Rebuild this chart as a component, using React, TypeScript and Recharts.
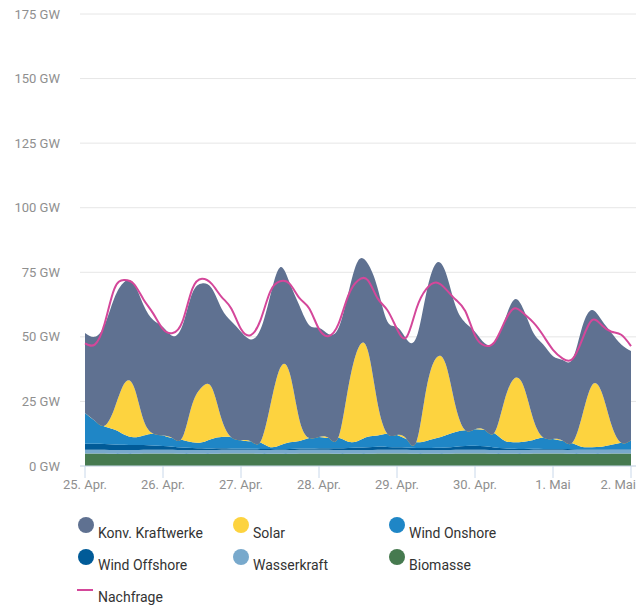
import React from 'react';
import {
  ComposedChart,
  Area,
  Line,
  XAxis,
  YAxis,
  CartesianGrid,
} from 'recharts';

// hours since 25. Apr. 00:00, 3h steps
const hours = [
  0, 3, 6, 9, 12, 15, 18, 21, 24, 27, 30, 33, 36, 39, 42, 45, 48, 51, 54, 57,
  60, 63, 66, 69, 72, 75, 78, 81, 84, 87, 90, 93, 96, 99, 102, 105, 108, 111,
  114, 117, 120, 123, 126, 129, 132, 135, 138, 141, 144, 147, 150, 153, 156,
  159, 162, 165, 168,
];

const biomasse = [
  4.8, 4.8, 4.8, 4.7, 4.7, 4.7, 4.8, 4.8, 4.8, 4.8, 4.7, 4.7, 4.7, 4.7, 4.8,
  4.8, 4.8, 4.8, 4.7, 4.7, 4.7, 4.7, 4.8, 4.8, 4.8, 4.8, 4.7, 4.7, 4.7, 4.7,
  4.8, 4.8, 4.8, 4.8, 4.7, 4.7, 4.7, 4.7, 4.8, 4.8, 4.8, 4.8, 4.7, 4.7, 4.7,
  4.7, 4.8, 4.8, 4.8, 4.8, 4.7, 4.7, 4.7, 4.7, 4.8, 4.8, 4.8,
];

const wasserkraft = [
  1.5, 1.5, 1.5, 1.5, 1.5, 1.5, 1.5, 1.5, 1.5, 1.5, 1.5, 1.5, 1.5, 1.5, 1.5,
  1.5, 1.5, 1.5, 1.5, 1.5, 1.5, 1.5, 1.5, 1.5, 1.5, 1.5, 1.5, 1.5, 1.5, 1.5,
  1.5, 1.5, 1.5, 1.5, 1.5, 1.5, 1.5, 1.5, 1.5, 1.5, 1.5, 1.5, 1.5, 1.5, 1.5,
  1.5, 1.5, 1.5, 1.5, 1.5, 1.5, 1.5, 1.5, 1.5, 1.5, 1.5, 1.5,
];

const windOffshore = [
  2.3, 2.3, 2.2, 2.1, 2.0, 1.9, 1.8, 1.6, 1.4, 1.2, 1.0, 0.8, 0.7, 0.6, 0.6,
  0.5, 0.5, 0.4, 0.4, 0.4, 0.3, 0.4, 0.5, 0.5, 0.6, 0.6, 0.7, 0.8, 1.0, 1.1,
  1.2, 1.1, 1.0, 0.9, 0.8, 0.8, 0.9, 1.0, 1.2, 1.4, 1.5, 1.3, 1.0, 0.7, 0.5,
  0.4, 0.4, 0.3, 0.3, 0.3, 0.3, 0.2, 0.2, 0.2, 0.2, 0.2, 0.2,
];

const windOnshore = [
  11.9, 8.9, 6.8, 5.8, 4.0, 3.0, 3.7, 4.6, 4.1, 3.2, 2.9, 2.2, 2.3, 3.7, 4.3,
  4.3, 3.2, 2.9, 2.5, 0.7, 1.5, 2.6, 2.9, 4.0, 4.3, 3.9, 4.0, 2.4, 2.5, 4.0,
  4.3, 5.1, 4.7, 3.2, 2.2, 2.7, 3.6, 4.7, 5.7, 6.1, 6.4, 6.3, 5.5, 3.0, 2.5,
  2.8, 3.4, 4.4, 3.9, 3.2, 2.3, 1.0, 0.9, 1.1, 1.7, 2.5, 3.5,
];

const solar = [
  0, 0, 0.3, 8, 19.5, 19.7, 6, 0,
  0, 0, 1, 14.7, 21.4, 19.9, 7, 0,
  0, 0, 0.3, 16, 29.8, 26.7, 8, 0,
  0, 0, 0.3, 21, 35.7, 33.5, 12.6, 0,
  0, 0, 0.3, 20, 31, 27.5, 10, 0,
  0, 0, 0.3, 15.2, 24.6, 21.3, 7.7, 0,
  0, 0, 0.3, 12.2, 24, 21, 7.7, 0,
  0,
];

const konv = [
  31.0, 32.5, 38.9, 42.8, 39.4, 39.9, 44.5, 44.0,
  42.0, 39.6, 43.4, 43.0, 40.1, 38.4, 42.8, 44.9,
  42.0, 39.4, 43.5, 42.6, 39.1, 35.0, 44.3, 43.7,
  42.3, 40.2, 42.2, 36.5, 34.0, 33.6, 44.6, 43.5,
  41.8, 38.6, 40.4, 37.2, 36.7, 35.5, 38.8, 41.7,
  37.8, 33.6, 34.9, 30.8, 30.6, 29.7, 33.7, 36.0,
  32.0, 31.2, 32.3, 34.3, 29.1, 27.9, 35.6, 38.0,
  34.5,
];

const nachfrage = [
  47.5, 47, 55, 68.5, 72, 70.5, 64.5, 59,
  53, 51.5, 56, 68.5, 72.5, 70.5, 65.5, 61,
  53, 50.7, 56.5, 67.5, 71.5, 70.5, 65, 61,
  53, 50.3, 55, 66, 71.8, 72, 65, 60.4,
  53, 50, 61, 68.5, 71, 68.5, 64.5, 60,
  50.5, 46.6, 48, 55.5, 61, 59, 55.5, 50.5,
  45, 41.6, 41.4, 49, 56.5, 54.5, 52, 50.8,
  46.4,
];

const dayTicks = [0, 24, 48, 72, 96, 120, 144, 168];
const dayLabels = ['25. Apr.', '26. Apr.', '27. Apr.', '28. Apr.', '29. Apr.', '30. Apr.', '1. Mai', '2. Mai'];
const gwTicks = [0, 25, 50, 75, 100, 125, 150, 175];

const data = hours.map((h, i) => ({
  h,
  biomasse: biomasse[i],
  wasserkraft: wasserkraft[i],
  windOffshore: windOffshore[i],
  windOnshore: windOnshore[i],
  solar: solar[i],
  konv: konv[i],
  nachfrage: nachfrage[i],
}));

// bottom to top in the stack
const areas = [
  { key: 'biomasse', name: 'Biomasse', color: '#467a4f' },
  { key: 'wasserkraft', name: 'Wasserkraft', color: '#78a9cc' },
  { key: 'windOffshore', name: 'Wind Offshore', color: '#015b98' },
  { key: 'windOnshore', name: 'Wind Onshore', color: '#1f86c6' },
  { key: 'solar', name: 'Solar', color: '#fdd33f' },
  { key: 'konv', name: 'Konv. Kraftwerke', color: '#5f7191' },
];

const legendItems = [
  { name: 'Konv. Kraftwerke', color: '#5f7191' },
  { name: 'Solar', color: '#fdd33f' },
  { name: 'Wind Onshore', color: '#1f86c6' },
  { name: 'Wind Offshore', color: '#015b98' },
  { name: 'Wasserkraft', color: '#78a9cc' },
  { name: 'Biomasse', color: '#467a4f' },
];

const FONT = 'Roboto, "Open Sans", sans-serif';

const DayTick = (props: any) => {
  const { x, y, index } = props;
  const last = index === dayLabels.length - 1;
  return (
    <text
      x={last ? x + 5 : x}
      y={y}
      dy="0.71em"
      textAnchor={last ? 'end' : 'middle'}
      fill="#8f8f8f"
      fontSize={13}
      fontFamily={FONT}
    >
      {dayLabels[index]}
    </text>
  );
};

const App: React.FC = () => {
  const colX = [86, 241, 397];
  return (
    <div style={{ position: 'absolute', left: 0, top: 0, width: 636, height: 606, fontFamily: FONT }}>
      <ComposedChart width={636} height={500} data={data} margin={{ top: 14, right: 0, bottom: 0, left: 0 }}>
        <CartesianGrid vertical={false} stroke="#e6e6e6" />
        <XAxis
          dataKey="h"
          type="number"
          domain={[0, 168]}
          ticks={dayTicks}
          padding={{ left: 5, right: 5 }}
          height={34}
          tickSize={12}
          tickMargin={2}
          stroke="#c9d8ea"
          tick={<DayTick />}
          interval={0}
        />
        <YAxis
          width={80}
          domain={[0, 175]}
          ticks={gwTicks}
          axisLine={false}
          tickLine={false}
          tickSize={0}
          tickMargin={20}
          tickFormatter={(v: number) => `${v} GW`}
          tick={{ fill: '#8f8f8f', fontSize: 13, fontFamily: FONT }}
        />
        {areas.map((a) => (
          <Area
            key={a.key}
            type="natural"
            dataKey={a.key}
            name={a.name}
            stackId="1"
            stroke="none"
            fill={a.color}
            fillOpacity={1}
            isAnimationActive={false}
          />
        ))}
        <Line
          type="natural"
          dataKey="nachfrage"
          name="Nachfrage"
          stroke="#d4479a"
          strokeWidth={2}
          dot={false}
          isAnimationActive={false}
        />
      </ComposedChart>
      {legendItems.map((item, i) => {
        const cx = colX[i % 3];
        const cy = i < 3 ? 525 : 557;
        return (
          <div key={item.name}>
            <div
              style={{
                position: 'absolute',
                left: cx - 8,
                top: cy - 8,
                width: 16,
                height: 16,
                borderRadius: 8,
                background: item.color,
              }}
            />
            <div
              style={{
                position: 'absolute',
                left: cx + 12,
                top: cy - 1,
                fontSize: 14,
                lineHeight: '18px',
                color: '#333',
                whiteSpace: 'nowrap',
              }}
            >
              {item.name}
            </div>
          </div>
        );
      })}
      <div style={{ position: 'absolute', left: 77, top: 589, width: 16, height: 2, background: '#d4479a' }} />
      <div
        style={{
          position: 'absolute',
          left: 98,
          top: 588,
          fontSize: 14,
          lineHeight: '18px',
          color: '#333',
          whiteSpace: 'nowrap',
        }}
      >
        Nachfrage
      </div>
    </div>
  );
};

export default App;
